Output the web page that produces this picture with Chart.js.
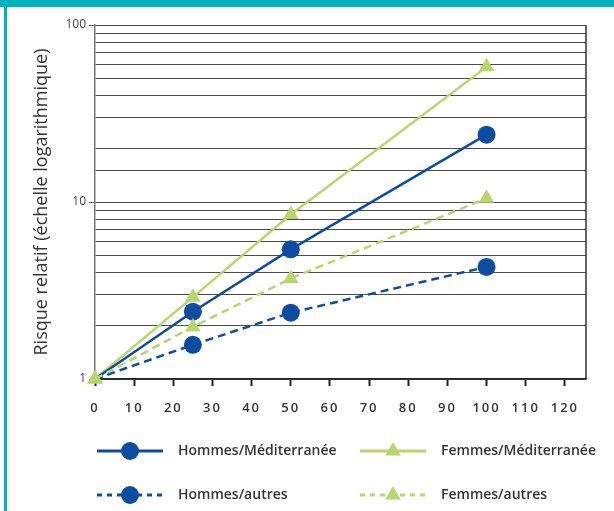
<!DOCTYPE html>
<html><head><meta charset="utf-8">
<script src="https://cdn.jsdelivr.net/npm/chart.js@4"></script>
<style>
html,body{margin:0;padding:0;background:#fff;}
#wrap{position:relative;width:614px;height:511px;overflow:hidden;background:#fff;}
#c{position:absolute;left:0;top:0;}
.bar-top{position:absolute;left:0;top:0;width:614px;height:7px;background:#00b2be;}
.bar-left{position:absolute;left:4px;top:0;width:3px;height:511px;background:#00b2be;}
</style></head><body>
<div id="wrap"><canvas id="c" width="614" height="511"></canvas><div class="bar-top"></div><div class="bar-left"></div></div>
<script>
// ---- data ----
const doses = [0, 25, 50, 100];
const hommesMed = [1, 2.4, 5.4, 24];
const femmesMed = [1, 2.9, 8.5, 58];
const hommesAutres = [1, 1.56, 2.37, 4.3];
const femmesAutres = [1, 1.97, 3.7, 10.5];
const seriesNames = ['Hommes/Méditerranée', 'Femmes/Méditerranée', 'Hommes/autres', 'Femmes/autres'];
const xTickValues = [0, 10, 20, 30, 40, 50, 60, 70, 80, 90, 100, 110, 120];
const yTickLabels = [1, 10, 100];
const yTitle = 'Risque relatif (échelle logarithmique)';

const BLUE = '#0d4da1';
const GREEN = '#b7d66b';

function pts(vals) { return doses.map((d, i) => ({x: d, y: vals[i]})); }

const datasets = [
  {label: seriesNames[0], data: pts(hommesMed), borderColor: BLUE, backgroundColor: BLUE,
   pointStyle: 'circle', pointRadius: [0, 9, 9, 9], borderWidth: 2.5, order: 1, legendDash: []},
  {label: seriesNames[1], data: pts(femmesMed), borderColor: GREEN, backgroundColor: GREEN,
   pointStyle: 'triangle', pointRadius: 9, borderWidth: 2.5, order: 3, legendDash: []},
  {label: seriesNames[2], data: pts(hommesAutres), borderColor: BLUE, backgroundColor: BLUE,
   pointStyle: 'circle', pointRadius: [0, 9, 9, 9], borderWidth: 2.5, borderDash: [8, 5], order: 2, legendDash: [5, 5]},
  {label: seriesNames[3], data: pts(femmesAutres), borderColor: GREEN, backgroundColor: GREEN,
   pointStyle: 'triangle', pointRadius: 9, borderWidth: 2.5, borderDash: [8, 5], order: 0, legendDash: [5, 5]},
];
datasets.forEach(d => { d.pointBorderWidth = 0; d.pointHoverRadius = d.pointRadius; d.tension = 0; d.clip = false; d.fill = false; });

// custom legend: line with marker in the middle, 2 columns x 2 rows
const legendPlugin = {
  id: 'pairLegend',
  afterDraw(chart) {
    const {ctx, chartArea} = chart;
    const colX = [chartArea.left + 2, chartArea.left + 265];
    const rowY = [chartArea.bottom + 72, chartArea.bottom + 116];
    chart.data.datasets.forEach((ds, i) => {
      const x0 = colX[i % 2], y = rowY[Math.floor(i / 2)];
      ctx.save();
      ctx.strokeStyle = ds.borderColor;
      ctx.lineWidth = 3;
      ctx.setLineDash(ds.legendDash);
      ctx.beginPath(); ctx.moveTo(x0, y); ctx.lineTo(x0 + 66, y); ctx.stroke();
      ctx.setLineDash([]);
      ctx.fillStyle = ds.backgroundColor;
      Chart.helpers.drawPoint(ctx, {pointStyle: ds.pointStyle, radius: 9, rotation: 0, borderWidth: 0}, x0 + 33, y);
      ctx.fillStyle = '#333';
      ctx.font = '600 14px "Open Sans"';
      ctx.textBaseline = 'middle';
      ctx.textAlign = 'left';
      ctx.fillText(ds.label, x0 + 81, y);
      ctx.restore();
    });
  },
  beforeDatasetsDraw(chart) {
    const {ctx, chartArea} = chart;
    ctx.save();
    ctx.strokeStyle = '#333';
    ctx.lineWidth = 1.5;
    ctx.beginPath(); ctx.moveTo(chartArea.right, chartArea.top); ctx.lineTo(chartArea.right, chartArea.bottom); ctx.stroke();
    ctx.restore();
  },
  afterUpdate(chart) {
    const s = chart.scales.x;
    if (s && !s._spaced) {
      const orig = s.drawLabels;
      s.drawLabels = function (a) { this.ctx.save(); this.ctx.letterSpacing = '2px'; orig.call(this, a); this.ctx.restore(); };
      s._spaced = true;
    }
  }
};

new Chart(document.getElementById('c'), {
  type: 'line',
  data: {datasets},
  plugins: [legendPlugin],
  options: {
    responsive: false,
    animation: false,
    devicePixelRatio: 1,
    layout: {padding: {left: 0, top: 25, right: 28, bottom: 0}},
    plugins: {legend: {display: false}, tooltip: {enabled: false}, title: {display: false}},
    scales: {
      x: {
        type: 'linear', min: 0, max: 125.4,
        afterFit: s => { s.height = 132; },
        afterBuildTicks: s => { s.ticks = xTickValues.map(v => ({value: v})); },
        ticks: {stepSize: 10, autoSkip: false, maxRotation: 0, padding: 14, color: '#333',
                font: {family: 'Open Sans', size: 13, weight: '600'}},
        grid: {display: true, drawOnChartArea: false, drawTicks: true, tickLength: 7, tickColor: '#222', tickWidth: 2},
        border: {display: true, color: '#222', width: 1.5}
      },
      y: {
        type: 'logarithmic', min: 1, max: 100,
        afterFit: s => { s.width = 95; },
        ticks: {autoSkip: false, padding: 3, color: '#444',
                font: {family: 'Open Sans', size: 12},
                callback: v => yTickLabels.includes(v) ? String(v) : ''},
        grid: {color: '#4a4a4a', lineWidth: 1, drawTicks: true, tickLength: 6,
               tickColor: c => (c.tick && yTickLabels.includes(c.tick.value)) ? '#555' : 'rgba(0,0,0,0)'},
        border: {display: true, color: '#777', width: 1.5},
        title: {display: true, text: yTitle, color: '#333', font: {family: 'Open Sans', size: 18}, padding: {top: 31, bottom: 0}}
      }
    }
  }
});
</script>
</body></html>
